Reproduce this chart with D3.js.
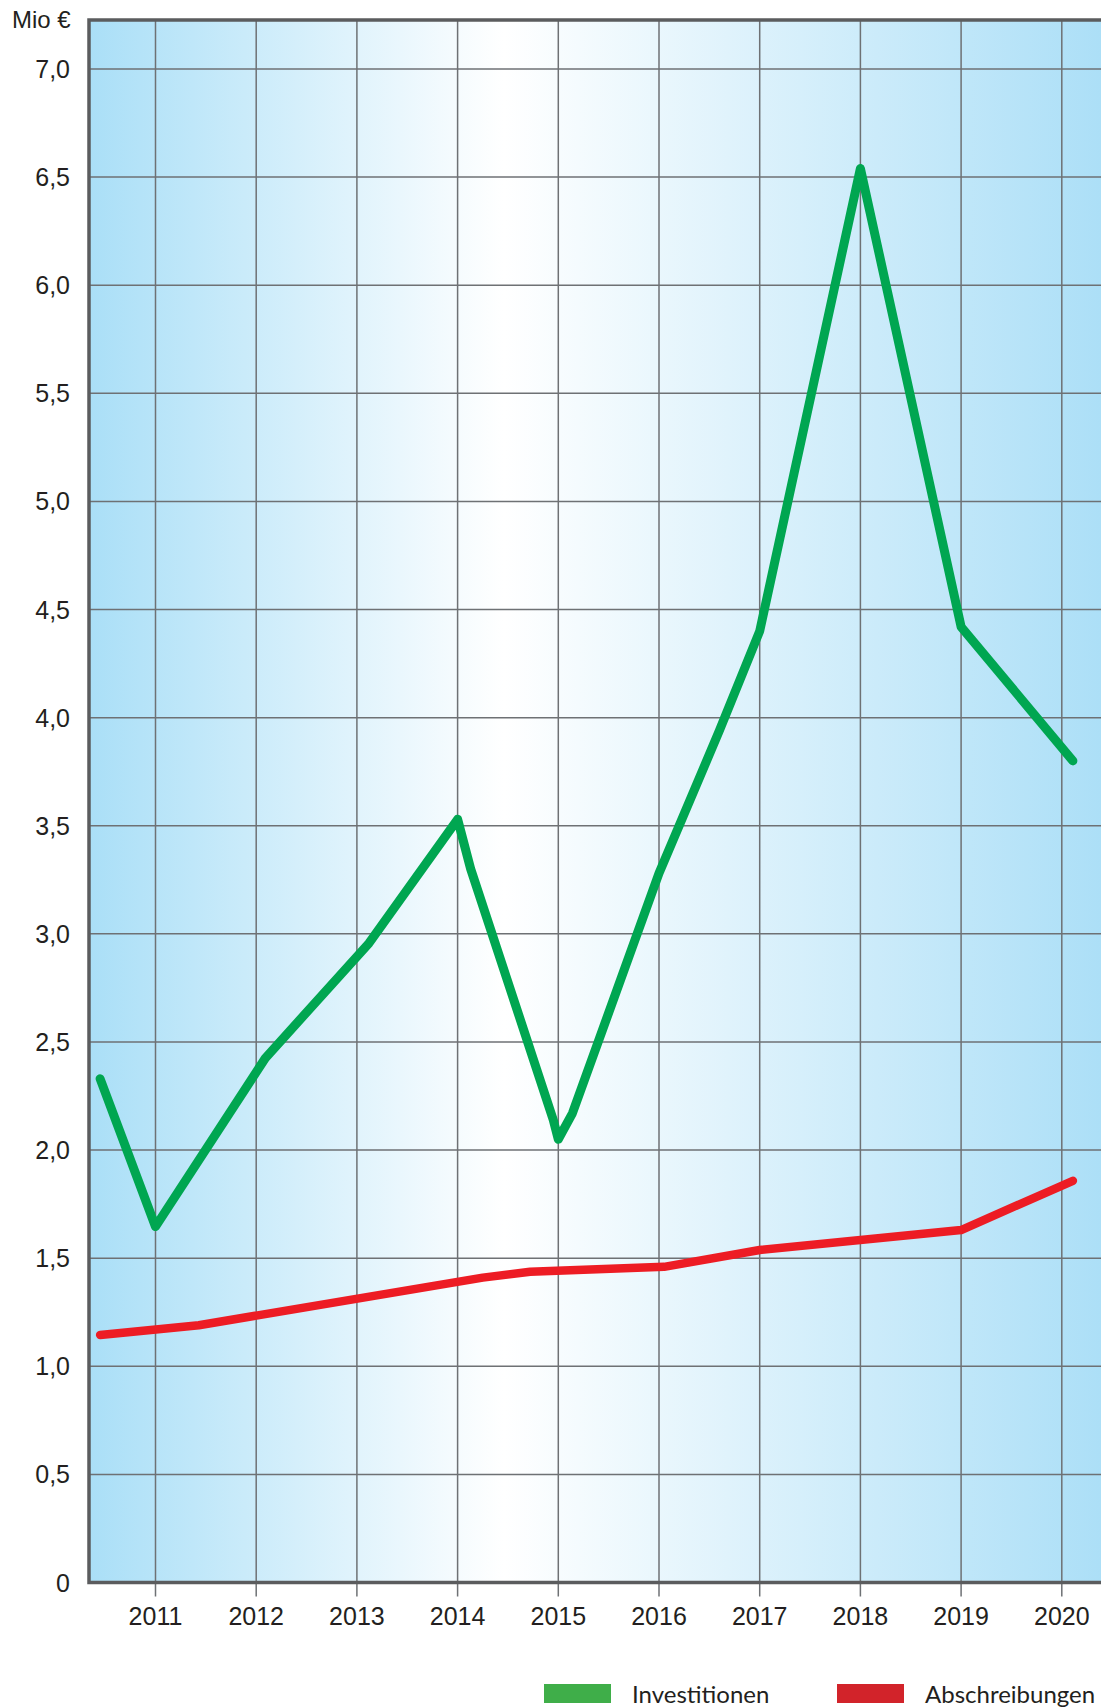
<!DOCTYPE html>
<html>
<head>
<meta charset="utf-8">
<script src="https://cdn.jsdelivr.net/npm/d3@7"></script>
<style>
  html, body { margin: 0; padding: 0; background: #ffffff; }
  svg { display: block; }
</style>
</head>
<body>
<svg id="chart"></svg>
<script>
// Years on the x axis and values on the y axis (Mio €).
const years = [2011, 2012, 2013, 2014, 2015, 2016, 2017, 2018, 2019, 2020];
const yTicks = [0, 0.5, 1.0, 1.5, 2.0, 2.5, 3.0, 3.5, 4.0, 4.5, 5.0, 5.5, 6.0, 6.5, 7.0];
const yUnit = 'Mio €';

// Series: [year position, value].
const investitionen = [
    [2010.45, 2.33], [2011.0, 1.646], [2012.09, 2.425], [2013.12, 2.957],
    [2014.0, 3.53], [2014.13, 3.30], [2014.95, 2.14], [2015.0, 2.05],
    [2015.14, 2.17], [2016.0, 3.28], [2016.6, 3.94], [2017.0, 4.40],
    [2018.0, 6.54], [2019.0, 4.42], [2020.11, 3.80]
];
const abschreibungen = [
    [2010.45, 1.145], [2011.43, 1.19], [2014.25, 1.41], [2014.72, 1.437],
    [2016.05, 1.46], [2017.0, 1.538], [2019.0, 1.63], [2020.11, 1.858]
];

const seriesNames = ['Investitionen', 'Abschreibungen'];
const lineColors = ['#00a651', '#ed1c24'];
const lineWidths = [9, 8.5];
const legendColors = ['#3fae49', '#d2232a'];

// Overall canvas and plot frame.
const width = 1101;
const height = 1707;
const plotLeft = 89;
const plotTop = 20;
const plotRight = width;
const plotBottom = 1582.5;

const svg = d3.select('#chart')
    .attr('width', width)
    .attr('height', height)
    .attr('viewBox', `0 0 ${width} ${height}`);

// Scales: years are evenly spaced, values linear from 0 to 7.
const x = d3.scaleLinear().domain([2011, 2020]).range([155.5, 1061.8]);
const y = d3.scaleLinear().domain([0, 7]).range([plotBottom, 69]);

// Blue -> white -> blue background gradient.
const defs = svg.append('defs');
const grad = defs.append('linearGradient')
    .attr('id', 'bg')
    .attr('gradientUnits', 'userSpaceOnUse')
    .attr('x1', plotLeft).attr('x2', plotRight)
    .attr('y1', 0).attr('y2', 0);
grad.append('stop').attr('offset', 0).attr('stop-color', '#aadff7');
grad.append('stop').attr('offset', 0.41).attr('stop-color', '#ffffff');
grad.append('stop').attr('offset', 1).attr('stop-color', '#acdff7');

svg.append('rect')
    .attr('x', plotLeft)
    .attr('y', plotTop)
    .attr('width', plotRight - plotLeft)
    .attr('height', plotBottom - plotTop)
    .attr('fill', 'url(#bg)');

// Grid lines.
const grid = svg.append('g').attr('stroke', '#6e7174').attr('stroke-width', 1.5);
grid.selectAll('line.h')
    .data(yTicks.filter(d => d > 0))
    .join('line')
    .attr('class', 'h')
    .attr('x1', plotLeft).attr('x2', plotRight)
    .attr('y1', d => y(d)).attr('y2', d => y(d));
grid.selectAll('line.v')
    .data(years)
    .join('line')
    .attr('class', 'v')
    .attr('x1', d => x(d)).attr('x2', d => x(d))
    .attr('y1', plotTop).attr('y2', plotBottom + 14);

// Frame on top, left and bottom.
svg.append('path')
    .attr('d', `M${plotRight},${plotTop} H${plotLeft} V${plotBottom} H${plotRight}`)
    .attr('fill', 'none')
    .attr('stroke', '#5b5c5e')
    .attr('stroke-width', 3.5);

// Axis labels.
const fmt = d => d === 0 ? '0' : d3.format('.1f')(d).replace('.', ',');
const labelFont = '"Liberation Sans", Arial, sans-serif';

svg.append('g')
    .selectAll('text')
    .data(yTicks)
    .join('text')
    .attr('x', 70)
    .attr('y', d => y(d))
    .attr('dy', '0.36em')
    .attr('text-anchor', 'end')
    .style('font-family', labelFont)
    .style('font-size', '25px')
    .attr('fill', '#231f20')
    .text(fmt);

svg.append('text')
    .attr('x', 12)
    .attr('y', 28)
    .style('font-family', labelFont)
    .style('font-size', '24px')
    .attr('fill', '#231f20')
    .text(yUnit);

svg.append('g')
    .selectAll('text')
    .data(years)
    .join('text')
    .attr('x', d => x(d))
    .attr('y', 1625)
    .attr('text-anchor', 'middle')
    .style('font-family', labelFont)
    .style('font-size', '25px')
    .attr('fill', '#231f20')
    .text(d => d);

// The two lines.
const line = d3.line().x(d => x(d[0])).y(d => y(d[1]));
svg.append('g')
    .selectAll('path')
    .data([investitionen, abschreibungen])
    .join('path')
    .attr('d', line)
    .attr('fill', 'none')
    .attr('stroke', (d, i) => lineColors[i])
    .attr('stroke-width', (d, i) => lineWidths[i])
    .attr('stroke-linejoin', 'round')
    .attr('stroke-linecap', 'round');

// Legend at the bottom.
const legendX = [544, 837];
const legend = svg.append('g')
    .selectAll('g')
    .data(seriesNames)
    .join('g')
    .attr('transform', (d, i) => `translate(${legendX[i]},1684)`);
legend.append('rect')
    .attr('width', 67)
    .attr('height', 19)
    .attr('fill', (d, i) => legendColors[i]);
legend.append('text')
    .attr('x', 88)
    .attr('y', 19)
    .style('font-family', 'Lato, "Open Sans", sans-serif')
    .style('font-size', '24px')
    .attr('fill', '#231f20')
    .text(d => d);
</script>
</body>
</html>
